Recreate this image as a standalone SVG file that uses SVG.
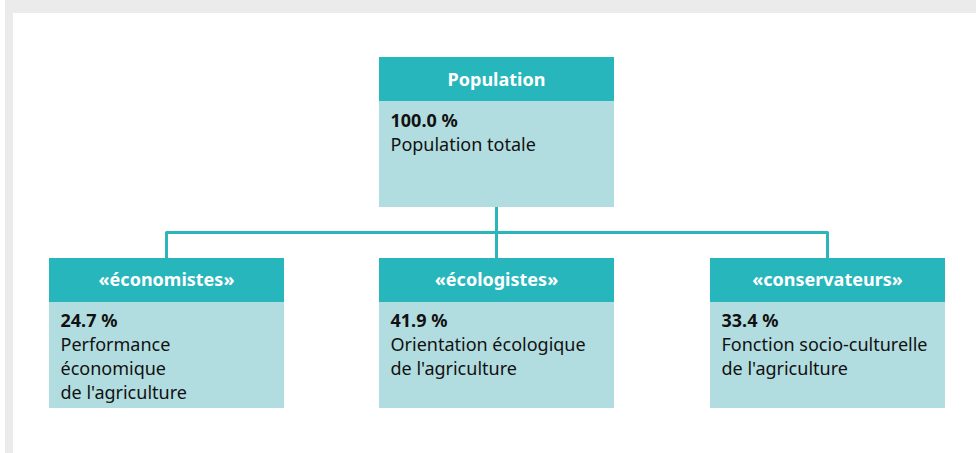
<svg xmlns="http://www.w3.org/2000/svg" width="976" height="453" viewBox="0 0 976 453">
  <style>
    .frame { fill: #ebebeb; }
    .panel { fill: #ffffff; }
    .head { fill: #27b6bc; }
    .body { fill: #b1dde0; }
    .link { fill: none; stroke: #2cb6bc; stroke-width: 3; stroke-linejoin: round; }
    .title { font-family: "Noto Sans", "Open Sans", sans-serif; font-size: 18px; font-weight: bold; fill: #ffffff; text-anchor: middle; }
    .pct { font-family: "Noto Sans", "Open Sans", sans-serif; font-size: 18px; font-weight: bold; fill: #111111; }
    .txt { font-family: "Noto Sans", "Open Sans", sans-serif; font-size: 18px; fill: #111111; }
  </style>

  <!-- page background -->
  <rect x="0" y="0" width="976" height="453" fill="#ffffff"/>
  <rect class="frame" x="5" y="0" width="971" height="453"/>
  <rect class="panel" x="13" y="13" width="963" height="440"/>

  <!-- tree connectors -->
  <g id="connectors">
    <line class="link" x1="496.5" y1="207" x2="496.5" y2="258"/>
    <path class="link" d="M166.5 258 V232.5 H827.5 V258"/>
  </g>

  <!-- root node -->
  <g id="population">
    <rect class="body" x="379" y="57" width="235" height="150"/>
    <rect class="head" x="379" y="57" width="235" height="44"/>
    <text class="title" x="496.5" y="86">Population</text>
    <text class="pct" x="390.5" y="127">100.0 %</text>
    <text class="txt" x="390.5" y="151">Population totale</text>
  </g>

  <!-- child nodes -->
  <g id="economistes">
    <rect class="body" x="49" y="258" width="235" height="150"/>
    <rect class="head" x="49" y="258" width="235" height="44"/>
    <text class="title" x="166.5" y="286">«économistes»</text>
    <text class="pct" x="60.5" y="327">24.7 %</text>
    <text class="txt" x="60.5" y="351">Performance</text>
    <text class="txt" x="60.5" y="375">économique</text>
    <text class="txt" x="60.5" y="399">de l'agriculture</text>
  </g>

  <g id="ecologistes">
    <rect class="body" x="379" y="258" width="235" height="150"/>
    <rect class="head" x="379" y="258" width="235" height="44"/>
    <text class="title" x="496.5" y="286">«écologistes»</text>
    <text class="pct" x="390.5" y="327">41.9 %</text>
    <text class="txt" x="390.5" y="351">Orientation écologique</text>
    <text class="txt" x="390.5" y="375">de l'agriculture</text>
  </g>

  <g id="conservateurs">
    <rect class="body" x="710" y="258" width="235" height="150"/>
    <rect class="head" x="710" y="258" width="235" height="44"/>
    <text class="title" x="827.5" y="286">«conservateurs»</text>
    <text class="pct" x="721.5" y="327">33.4 %</text>
    <text class="txt" x="721.5" y="351">Fonction socio-culturelle</text>
    <text class="txt" x="721.5" y="375">de l'agriculture</text>
  </g>
</svg>
